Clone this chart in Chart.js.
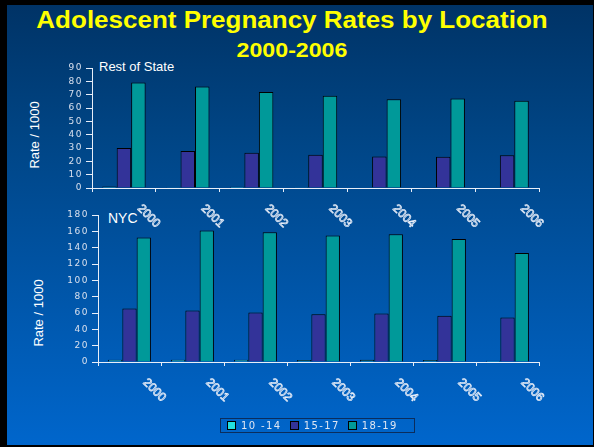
<!DOCTYPE html>
<html>
<head>
<meta charset="utf-8">
<script src="https://cdn.jsdelivr.net/npm/chart.js@4"></script>
<style>
  html, body { margin: 0; padding: 0; background: #000; }
  #page { position: relative; width: 594px; height: 447px; overflow: hidden; background: #000; }
  #slide { position: absolute; left: 7px; top: 5px; width: 586px; height: 440px;
           background: linear-gradient(#003366 0%, #004585 30%, #0066cc 100%); }
  canvas { position: absolute; left: 0; top: 0; }
  .txt { position: absolute; font-family: "Liberation Sans", Arial, sans-serif; white-space: nowrap; line-height: 1; }
  .title { left: 0; width: 584px; text-align: center; color: #ffff00; font-weight: bold; transform: scaleX(1.13); }
  .ytitle { color: #fff; font-size: 13px; transform: translate(-50%, -50%) rotate(-90deg); }
  #legend { position: absolute; left: 220px; top: 418px; width: 187px; height: 13px; border: 1px solid #0b2d5c;
            display: flex; align-items: center; padding-left: 6px; box-sizing: content-box;
            font-family: "DejaVu Sans", sans-serif; font-size: 10px; letter-spacing: 1.4px; color: #dfe6f2; }
  #legend .item { display: flex; align-items: center; margin-right: 8px; }
  #legend .box { width: 7px; height: 7px; border: 1px solid #000; margin-right: 5px; }
</style>
</head>
<body>
<div id="page">
  <div id="slide"></div>
  <div class="txt title" style="top:9px;font-size:23px;">Adolescent Pregnancy Rates by Location</div>
  <div class="txt title" style="top:40px;font-size:20.5px;">2000-2006</div>
  <div class="txt" style="left:99px;top:60px;font-size:13px;color:#fff;">Rest of State</div>
  <div class="txt" style="left:108px;top:211px;font-size:14px;color:#fff;">NYC</div>
  <div class="txt ytitle" style="left:34px;top:135px;">Rate / 1000</div>
  <div class="txt ytitle" style="left:38px;top:313px;">Rate / 1000</div>
  <canvas id="restChart" width="594" height="447"></canvas>
  <canvas id="nycChart" width="594" height="447"></canvas>
  <div id="legend"></div>
</div>
<script>
const years = ['2000', '2001', '2002', '2003', '2004', '2005', '2006'];
const ageGroups = ['10 -14', '15-17', '18-19'];
const groupColors = ['#33cccc', '#333399', '#009999'];

// Rest of State, rate per 1000
const rest1014 = [1.1, 0.6, 1.0, 0.6, 0.4, 0.5, 0.4];
const rest1517 = [30, 27.7, 26.5, 25, 23.7, 23.5, 24.5];
const rest1819 = [79.2, 76.2, 72, 69.2, 66.5, 67.2, 65.5];

// NYC, rate per 1000
const nyc1014 = [2.9, 2.9, 2.8, 2.5, 2.7, 2.6, 1.6];
const nyc1517 = [65.5, 63, 60.6, 58.5, 59.3, 56.5, 54.5];
const nyc1819 = [152.6, 161, 158.8, 155, 156.3, 150.6, 133.4];

const axisColor = '#e8eef8';
const tickColor = '#d8e0ee';

// wide spaced tick digits like the slide
const spacing = {
    id: 'spacing',
    beforeDraw(chart) {
        chart.ctx.letterSpacing = '1.5px';
    }
};

// slanted outlined year labels under each axis
const yearLabels = {
    id: 'yearLabels',
    afterDraw(chart) {
        const ctx = chart.ctx;
        const xs = chart.scales.x;
        ctx.save();
        ctx.letterSpacing = '0px';
        ctx.font = '12px "Liberation Sans"';
        ctx.strokeStyle = '#e6edf8';
        ctx.lineWidth = 0.8;
        xs.getLabels().forEach((lab, i) => {
            ctx.save();
            ctx.translate(xs.getPixelForValue(i) + 13, chart.chartArea.bottom + 21);
            ctx.rotate(Math.PI / 4);
            ctx.strokeText(lab, 0, 0);
            ctx.restore();
        });
        ctx.restore();
    }
};

function makeChart(id, series, yMax, step, area) {
    const ctx = document.getElementById(id).getContext('2d');
    return new Chart(ctx, {
        type: 'bar',
        data: {
            labels: years,
            datasets: series.map((vals, i) => ({
                label: ageGroups[i],
                data: vals,
                backgroundColor: groupColors[i],
                borderColor: '#000',
                borderWidth: 1,
                categoryPercentage: 0.68,
                barPercentage: 1
            }))
        },
        plugins: [spacing, yearLabels],
        options: {
            responsive: false,
            animation: false,
            layout: {
                padding: { top: area.top, right: 594 - area.right, bottom: 447 - area.bottom - 10, left: 0 }
            },
            plugins: {
                legend: { display: false },
                tooltip: { enabled: false }
            },
            scales: {
                x: {
                    grid: { drawOnChartArea: false, drawTicks: true, tickLength: 4, color: axisColor, lineWidth: 1 },
                    border: { display: true, color: axisColor, width: 1 },
                    ticks: { display: false },
                    afterFit: s => { s.height = 10; }
                },
                y: {
                    min: 0,
                    max: yMax,
                    ticks: { stepSize: step, autoSkip: false, color: tickColor, padding: 3, font: { family: 'DejaVu Sans', size: 9 } },
                    grid: { drawOnChartArea: false, drawTicks: true, tickLength: 6, color: axisColor, lineWidth: 1 },
                    border: { display: true, color: axisColor, width: 1 },
                    afterFit: s => { s.width = area.left; }
                }
            }
        }
    });
}

makeChart('restChart', [rest1014, rest1517, rest1819], 90, 10, { left: 92, right: 539, top: 68, bottom: 188 });
makeChart('nycChart', [nyc1014, nyc1517, nyc1819], 180, 20, { left: 98, right: 539, top: 215, bottom: 362 });

// legend under the NYC panel
const legend = document.getElementById('legend');
ageGroups.forEach((g, i) => {
    const item = document.createElement('div');
    item.className = 'item';
    item.innerHTML = '<div class="box" style="background:' + (i === 0 ? '#22e0e0' : groupColors[i]) + '"></div>' + g;
    legend.appendChild(item);
});
</script>
</body>
</html>
